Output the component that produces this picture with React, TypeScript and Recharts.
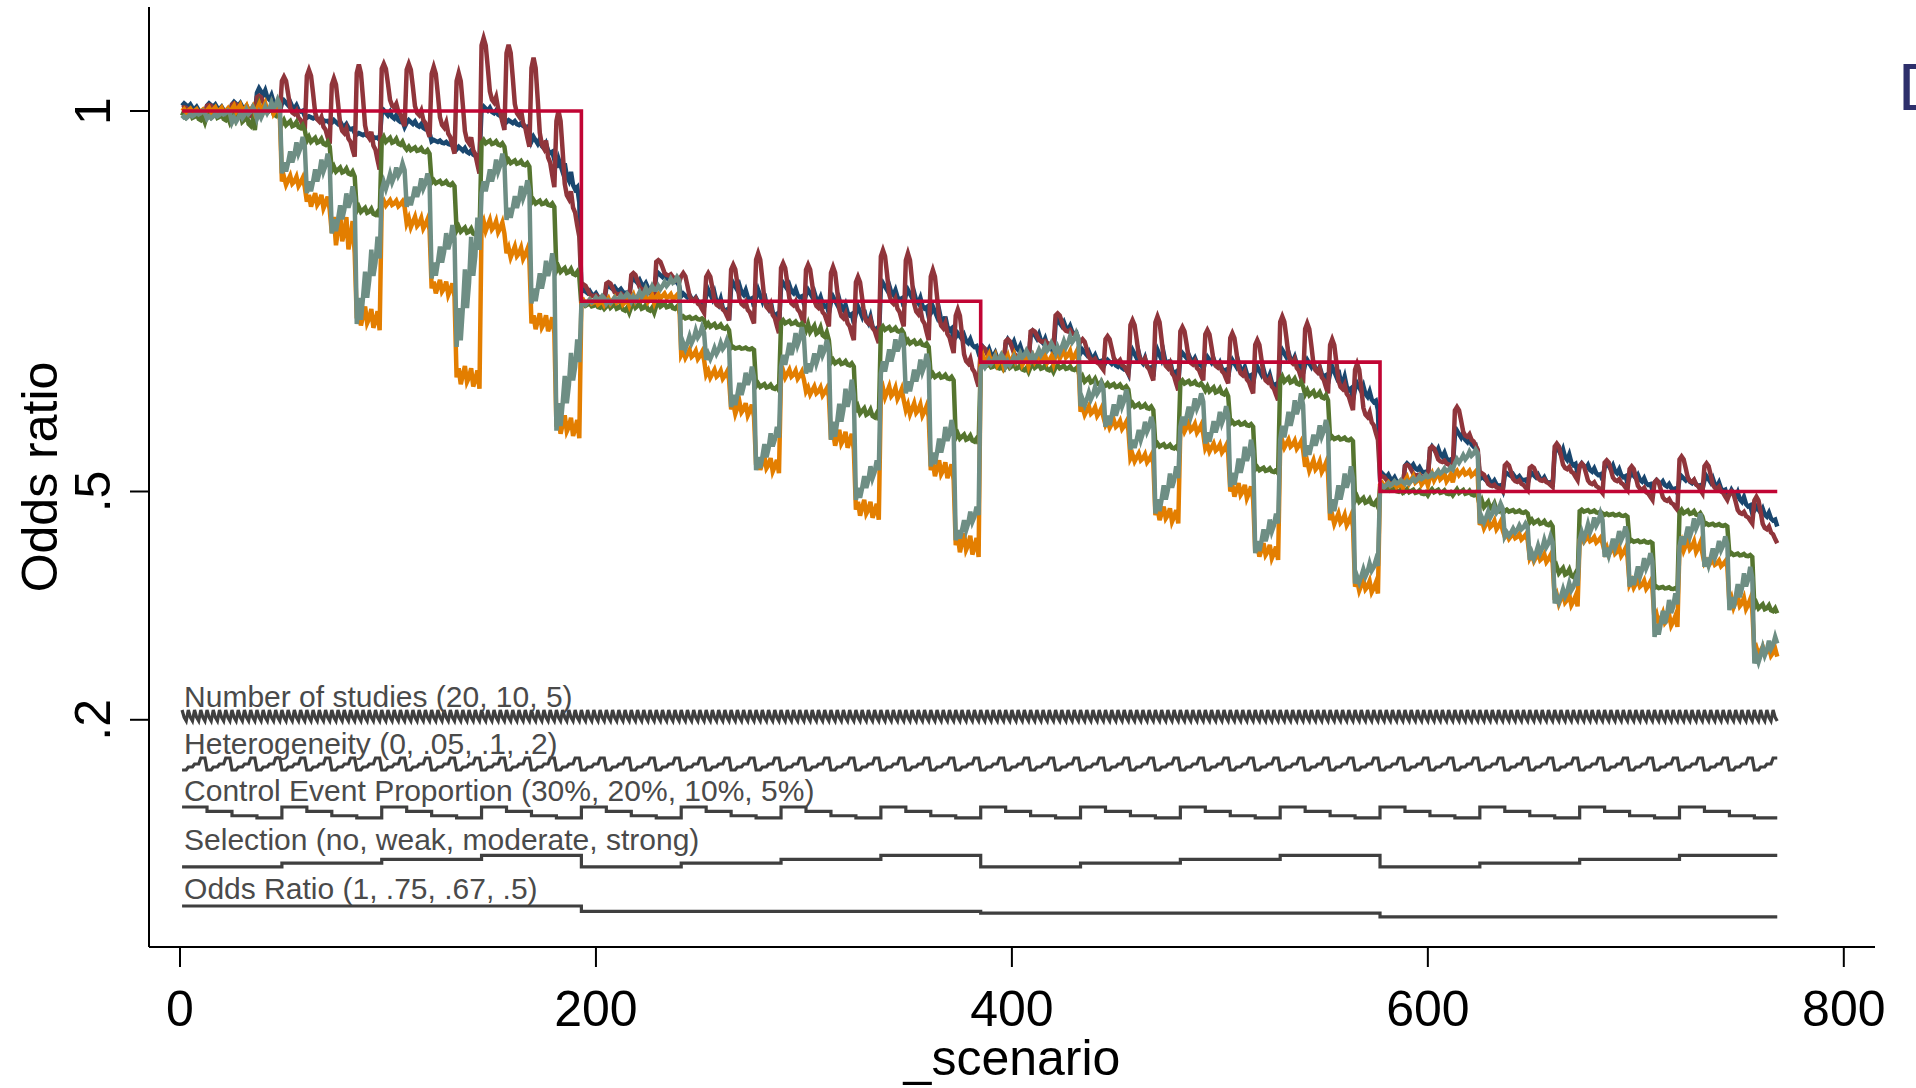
import React from 'react';
import { LineChart, Line, XAxis, YAxis, ReferenceDot } from 'recharts';

// ---------- factor levels (nested loop design, 4 x 4 x 4 x 4 x 3 = 768 scenarios) ----------
const orLevels = [1, 0.75, 0.67, 0.5];
const selectionLevels = [0, 1, 2, 3]; // no, weak, moderate, strong
const cepLevels = [30, 20, 10, 5];
const heterogeneityLevels = [0, 0.05, 0.1, 0.2];
const studiesLevels = [20, 10, 5];

const factorLabels = [
  'Number of studies (20, 10, 5)',
  'Heterogeneity (0, .05, .1, .2)',
  'Control Event Proportion (30%, 20%, 10%, 5%)',
  'Selection (no, weak, moderate, strong)',
  'Odds Ratio (1, .75, .67, .5)',
];

const xTicks = [0, 200, 400, 600, 800];
const yTicks = [0.2, 0.5, 1];
const yTickLabels = ['.2', '.5', '1'];

// ---------- estimates, read per CEP block (64 blocks of 12 scenarios): high / low of each block ----------
const navyHi = [1.01, 1.01, 1.012, 1.03, 1.014, 0.993, 0.988, 0.971, 1.001, 0.988, 0.962, 0.953, 1.006, 0.988, 0.966, 0.937,
  0.765, 0.77, 0.78, 0.787, 0.76, 0.765, 0.774, 0.765, 0.774, 0.765, 0.756, 0.743, 0.774, 0.765, 0.743, 0.708,
  0.69, 0.7, 0.71, 0.725, 0.686, 0.673, 0.686, 0.686, 0.682, 0.677, 0.673, 0.664, 0.686, 0.673, 0.664, 0.642,
  0.524, 0.537, 0.559, 0.58, 0.52, 0.524, 0.524, 0.559, 0.537, 0.537, 0.524, 0.515, 0.52, 0.52, 0.502, 0.48];
const navyLo = [0.995, 0.995, 0.995, 1.0, 0.993, 0.984, 0.971, 0.962, 0.979, 0.971, 0.953, 0.936, 0.988, 0.975, 0.936, 0.88,
  0.75, 0.757, 0.76, 0.77, 0.743, 0.725, 0.743, 0.716, 0.747, 0.734, 0.721, 0.699, 0.743, 0.73, 0.699, 0.682,
  0.665, 0.672, 0.68, 0.7, 0.664, 0.655, 0.651, 0.642, 0.66, 0.651, 0.642, 0.629, 0.655, 0.642, 0.62, 0.607,
  0.506, 0.52, 0.533, 0.55, 0.502, 0.511, 0.506, 0.524, 0.515, 0.511, 0.502, 0.498, 0.502, 0.493, 0.471, 0.454];

const maroonHi = [1.005, 1.008, 1.01, 1.02, 1.045, 1.054, 1.043, 1.061, 1.062, 1.062, 1.058, 1.05, 1.096, 1.087, 1.07, 1.0,
  0.772, 0.775, 0.787, 0.804, 0.787, 0.787, 0.798, 0.813, 0.8, 0.798, 0.795, 0.782, 0.817, 0.813, 0.791, 0.739,
  0.69, 0.7, 0.712, 0.734, 0.7, 0.704, 0.725, 0.73, 0.716, 0.712, 0.708, 0.699, 0.73, 0.721, 0.7, 0.668,
  0.52, 0.535, 0.559, 0.611, 0.524, 0.537, 0.533, 0.563, 0.537, 0.541, 0.533, 0.515, 0.546, 0.537, 0.5, 0.493];
const maroonLo = [0.993, 0.993, 0.99, 0.995, 0.975, 0.957, 0.94, 0.923, 0.98, 0.966, 0.944, 0.918, 0.975, 0.953, 0.9, 0.835,
  0.75, 0.752, 0.755, 0.775, 0.735, 0.725, 0.721, 0.708, 0.721, 0.717, 0.699, 0.695, 0.717, 0.699, 0.682, 0.638,
  0.663, 0.668, 0.69, 0.7, 0.66, 0.655, 0.646, 0.633, 0.646, 0.642, 0.629, 0.62, 0.642, 0.629, 0.607, 0.568,
  0.506, 0.515, 0.53, 0.555, 0.5, 0.502, 0.506, 0.515, 0.498, 0.502, 0.489, 0.476, 0.498, 0.489, 0.458, 0.432];

const greenHi = [1.0, 1.0, 1.002, 1.01, 0.988, 0.966, 0.927, 0.874, 0.966, 0.953, 0.909, 0.848, 0.962, 0.936, 0.883, 0.795,
  0.748, 0.748, 0.748, 0.748, 0.73, 0.721, 0.69, 0.642, 0.725, 0.72, 0.673, 0.611, 0.717, 0.699, 0.655, 0.576,
  0.668, 0.668, 0.668, 0.666, 0.651, 0.642, 0.616, 0.563, 0.646, 0.638, 0.592, 0.532, 0.651, 0.633, 0.572, 0.493,
  0.506, 0.503, 0.503, 0.503, 0.488, 0.476, 0.463, 0.401, 0.476, 0.471, 0.436, 0.375, 0.476, 0.458, 0.419, 0.353];
const greenLo = [0.985, 0.985, 0.975, 0.99, 0.975, 0.953, 0.914, 0.861, 0.953, 0.944, 0.901, 0.835, 0.953, 0.927, 0.874, 0.782,
  0.74, 0.735, 0.735, 0.738, 0.725, 0.712, 0.686, 0.633, 0.717, 0.699, 0.664, 0.594, 0.708, 0.69, 0.646, 0.563,
  0.66, 0.657, 0.657, 0.658, 0.638, 0.634, 0.607, 0.555, 0.638, 0.625, 0.585, 0.524, 0.638, 0.62, 0.566, 0.48,
  0.498, 0.495, 0.495, 0.493, 0.471, 0.471, 0.454, 0.384, 0.471, 0.467, 0.432, 0.371, 0.467, 0.454, 0.414, 0.34];

const tealHi = [1.0, 1.0, 1.005, 1.015, 0.966, 0.944, 0.901, 0.835, 0.931, 0.918, 0.85, 0.86, 0.944, 0.909, 0.813, 0.7,
  0.757, 0.76, 0.77, 0.782, 0.716, 0.699, 0.664, 0.585, 0.716, 0.699, 0.647, 0.541, 0.708, 0.681, 0.594, 0.48,
  0.68, 0.685, 0.695, 0.708, 0.642, 0.634, 0.598, 0.533, 0.629, 0.612, 0.568, 0.471, 0.629, 0.594, 0.533, 0.41,
  0.515, 0.522, 0.532, 0.555, 0.484, 0.458, 0.441, 0.384, 0.471, 0.454, 0.419, 0.366, 0.471, 0.441, 0.401, 0.309];
const tealLo = [0.99, 0.99, 0.985, 0.99, 0.918, 0.892, 0.839, 0.72, 0.896, 0.874, 0.78, 0.69, 0.892, 0.857, 0.747, 0.58,
  0.745, 0.747, 0.75, 0.765, 0.686, 0.673, 0.611, 0.528, 0.664, 0.655, 0.568, 0.489, 0.655, 0.629, 0.533, 0.436,
  0.662, 0.665, 0.673, 0.682, 0.612, 0.585, 0.555, 0.471, 0.585, 0.563, 0.506, 0.419, 0.568, 0.546, 0.471, 0.379,
  0.505, 0.51, 0.52, 0.537, 0.458, 0.441, 0.41, 0.353, 0.436, 0.414, 0.375, 0.309, 0.428, 0.401, 0.344, 0.274];

const orangeHi = [1.003, 1.005, 1.008, 1.01, 0.915, 0.892, 0.866, 0.743, 0.883, 0.861, 0.778, 0.665, 0.857, 0.822, 0.734, 0.6,
  0.752, 0.755, 0.76, 0.76, 0.686, 0.66, 0.618, 0.546, 0.66, 0.638, 0.581, 0.489, 0.638, 0.616, 0.541, 0.445,
  0.68, 0.68, 0.68, 0.686, 0.612, 0.594, 0.55, 0.48, 0.59, 0.563, 0.511, 0.432, 0.568, 0.541, 0.471, 0.384,
  0.512, 0.52, 0.525, 0.528, 0.463, 0.445, 0.419, 0.366, 0.441, 0.428, 0.384, 0.34, 0.436, 0.41, 0.362, 0.296];
const orangeLo = [0.997, 0.997, 0.997, 0.995, 0.9, 0.87, 0.813, 0.712, 0.874, 0.844, 0.756, 0.635, 0.839, 0.804, 0.708, 0.57,
  0.745, 0.745, 0.748, 0.752, 0.673, 0.647, 0.598, 0.524, 0.647, 0.625, 0.555, 0.463, 0.62, 0.598, 0.515, 0.414,
  0.665, 0.665, 0.668, 0.672, 0.598, 0.581, 0.537, 0.458, 0.576, 0.55, 0.489, 0.41, 0.555, 0.524, 0.454, 0.366,
  0.505, 0.508, 0.512, 0.52, 0.449, 0.436, 0.406, 0.349, 0.432, 0.414, 0.371, 0.322, 0.419, 0.401, 0.344, 0.283];

// within-block position of each of the 12 scenarios between the block's low (0) and high (1)
const navyProfile = [0.8, 1.0, 0.85, 0.7, 0.9, 0.6, 0.5, 0.7, 0.4, 0.3, 0.35, 0.0];
const maroonProfile = [0.92, 1.0, 0.92, 0.68, 0.42, 0.33, 0.3, 0.36, 0.23, 0.19, 0.09, 0.0];
const greenProfile = [0.6, 1.0, 0.5, 0.7, 0.9, 0.4, 0.5, 0.8, 0.3, 0.2, 0.5, 0.0];
const tealProfile = [0.0, 0.3, 0.05, 0.3, 0.6, 0.3, 0.5, 0.85, 0.55, 0.7, 1.0, 0.75];
const orangeProfile = [0.5, 0.9, 0.2, 0.6, 1.0, 0.3, 0.5, 0.9, 0.1, 0.4, 0.8, 0.0];

// ---------- layout: vertical bands (in y-axis units) used to draw the design factors ----------
const bands = {
  studies: { top: 0.2129, bottom: 0.1984, dy: -3 },
  het: { top: 0.1498, bottom: 0.134, dy: -4 },
  cep: { top: 0.0854, bottom: 0.071, dy: -6 },
  sel: { top: 0.0217, bottom: 0.0066, dy: -5 },
  or: { top: -0.0447, bottom: -0.0591, dy: -7 },
};

const inBand = (levels: number[], v: number, band: { top: number; bottom: number }) => {
  const mn = Math.min(...levels);
  const mx = Math.max(...levels);
  return band.bottom + ((v - mn) / (mx - mn)) * (band.top - band.bottom);
};

const N = orLevels.length * selectionLevels.length * cepLevels.length * heterogeneityLevels.length * studiesLevels.length;

const blockValue = (hi: number[], lo: number[], profile: number[], i: number) => {
  const b = Math.floor(i / 12);
  const j = i % 12;
  return lo[b] + (hi[b] - lo[b]) * profile[j];
};

const data = Array.from({ length: N }, (_, i) => {
  const orI = Math.floor(i / 192);
  const selI = Math.floor(i / 48) % 4;
  const cepI = Math.floor(i / 12) % 4;
  const hetI = Math.floor(i / 3) % 4;
  const kI = i % 3;
  return {
    s: i + 1,
    truth: orLevels[orI],
    navy: blockValue(navyHi, navyLo, navyProfile, i),
    maroon: blockValue(maroonHi, maroonLo, maroonProfile, i),
    green: blockValue(greenHi, greenLo, greenProfile, i),
    teal: blockValue(tealHi, tealLo, tealProfile, i),
    orange: blockValue(orangeHi, orangeLo, orangeProfile, i),
    fStudies: inBand(studiesLevels, studiesLevels[kI], bands.studies),
    fHet: inBand(heterogeneityLevels, heterogeneityLevels[hetI], bands.het),
    fCep: inBand(cepLevels, cepLevels[cepI], bands.cep),
    fSel: inBand(selectionLevels, selectionLevels[selI], bands.sel),
    fOr: inBand(orLevels, orLevels[orI], bands.or),
  };
});

const FONT = '"Liberation Sans", Arial, Helvetica, sans-serif';
const factorColor = '#3f3f3f';
const EST_W = 4.5;
const FACTOR_W = 3.2;

const YTick = (props: any) => {
  const { x, y, payload } = props;
  const idx = yTicks.indexOf(payload.value);
  const bx = x - 20;
  return (
    <text x={bx} y={y} transform={`rotate(-90 ${bx} ${y})`} textAnchor="middle" fontSize={50} fontFamily={FONT} fill="#000">
      {idx >= 0 ? yTickLabels[idx] : String(payload.value)}
    </text>
  );
};

const XTick = (props: any) => {
  const { x, y, payload } = props;
  return (
    <text x={x} y={y + 59} textAnchor="middle" fontSize={50} fontFamily={FONT} fill="#000">
      {String(payload.value)}
    </text>
  );
};

const makeLabel = (text: string, dy: number) => (p: any) => (
  <text x={p.cx + 2} y={p.cy + dy} fontSize={30} fontFamily={FONT} fill="#4a4a4a">
    {text}
  </text>
);

export default function App() {
  const bandList = [bands.studies, bands.het, bands.cep, bands.sel, bands.or];
  return (
    <div style={{ position: 'fixed', left: 0, top: 0, width: 1916, height: 1088, overflow: 'hidden', background: '#fff' }}>
      <LineChart width={1916} height={1088} data={data} margin={{ top: 7, right: 41, bottom: 0, left: 0 }}>
        <XAxis
          dataKey="s"
          type="number"
          domain={[-14.9, 815]}
          allowDataOverflow
          ticks={xTicks}
          height={141}
          tickSize={20}
          tickMargin={0}
          tick={<XTick />}
          axisLine={{ stroke: '#000', strokeWidth: 2.2 }}
          tickLine={{ stroke: '#000', strokeWidth: 2 }}
          interval={0}
        />
        <YAxis
          type="number"
          domain={[-0.0986, 1.1367]}
          allowDataOverflow
          ticks={yTicks}
          width={149}
          tickSize={19}
          tickMargin={0}
          tick={<YTick />}
          axisLine={{ stroke: '#000', strokeWidth: 2 }}
          tickLine={{ stroke: '#000', strokeWidth: 2 }}
          interval={0}
        />
        <Line dataKey="fStudies" type="linear" stroke={factorColor} strokeWidth={FACTOR_W} dot={false} isAnimationActive={false} />
        <Line dataKey="fHet" type="linear" stroke={factorColor} strokeWidth={FACTOR_W} dot={false} isAnimationActive={false} />
        <Line dataKey="fCep" type="stepAfter" stroke={factorColor} strokeWidth={FACTOR_W} dot={false} isAnimationActive={false} />
        <Line dataKey="fSel" type="stepAfter" stroke={factorColor} strokeWidth={FACTOR_W} dot={false} isAnimationActive={false} />
        <Line dataKey="fOr" type="stepAfter" stroke={factorColor} strokeWidth={FACTOR_W} dot={false} isAnimationActive={false} />
        <Line dataKey="navy" type="linear" stroke="#1a476f" strokeWidth={EST_W} dot={false} isAnimationActive={false} />
        <Line dataKey="maroon" type="linear" stroke="#90353b" strokeWidth={EST_W} dot={false} isAnimationActive={false} />
        <Line dataKey="green" type="linear" stroke="#55752f" strokeWidth={EST_W} dot={false} isAnimationActive={false} />
        <Line dataKey="orange" type="linear" stroke="#e37e00" strokeWidth={EST_W} dot={false} isAnimationActive={false} />
        <Line dataKey="teal" type="linear" stroke="#6e8e84" strokeWidth={EST_W} dot={false} isAnimationActive={false} />
        <Line dataKey="truth" type="stepAfter" stroke="#c10534" strokeWidth={3.6} dot={false} isAnimationActive={false} />
        {factorLabels.map((t, k) => (
          <ReferenceDot
            key={t}
            x={1}
            y={bandList[k].top}
            r={0}
            ifOverflow="visible"
            shape={makeLabel(t, bandList[k].dy)}
          />
        ))}
      </LineChart>
      <svg width={1916} height={1088} style={{ position: 'absolute', left: 0, top: 0, pointerEvents: 'none' }}>
        <text x={57} y={477} transform="rotate(-90 57 477)" textAnchor="middle" fontSize={50} fontFamily={FONT} fill="#000">
          Odds ratio
        </text>
        <text x={1012} y={1075} textAnchor="middle" fontSize={50} fontFamily={FONT} fill="#000">
          _scenario
        </text>
        <text x={1898} y={110} fontSize={67} fontFamily={FONT} fill="#2d2f6b">
          D
        </text>
      </svg>
    </div>
  );
}
